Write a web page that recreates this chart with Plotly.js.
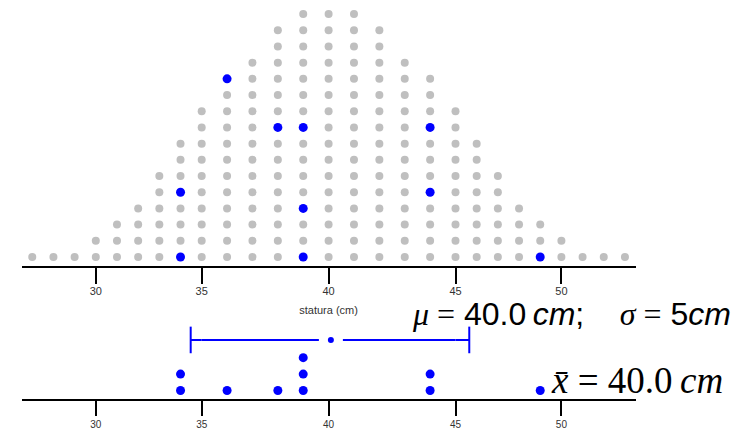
<!DOCTYPE html>
<html>
<head>
<meta charset="utf-8">
<script src="https://cdn.plot.ly/plotly-3.0.1.min.js"></script>
<style>html,body{margin:0;padding:0;background:#fff;}#chart{width:755px;height:429px;}</style>
</head>
<body>
<div id="chart"></div>
<script>
// ---- data ----
var popValues = [27,28,29,30,31,32,33,34,35,36,37,38,39,40,41,42,43,44,45,46,47,48,49,50,51,52,53];
var popCounts = [1,1,1,2,3,4,6,8,10,12,13,15,16,16,16,15,13,12,10,8,6,4,3,2,1,1,1];
var sampleValues = [34,34,36,38,39,39,39,44,44,49];
var sampleStackInPop = [1,5,12,9,1,4,9,5,9,1];   // stack level of each sampled individual in the population plot
var intervalLow = 34.48;
var intervalHigh = 45.65;
var intervalCenter = 40.09;
var topTicks = [[30],[35,40],[45,50]];
var bottomTicks = [[30],[35,40],[45,50]];
var SER = '<span style="font-family:\'Liberation Serif\'">';
var muText = SER + '<i>μ</i> =</span> 40.0\u2009<i>cm</i>;\u00a0\u00a0\u00a0\u00a0' + SER + '<i>σ</i> =</span> 5<i>cm</i>';
var xbarText = '<i>x\u0304</i> = 40.0\u2009<i>cm</i>';
var xTitle = 'statura (cm)';

// ---- layout helpers (piecewise x scale: three linear pieces) ----
var W = 755, H = 429;
var breaks = [35, 45];
var segPx = [[22.3, 201.7], [201.7, 455.5], [455.5, 636]];
var segRanges = [[35 - (201.7 - 22.3) / 21.18, 35], [35, 45], [45, 45 + (636 - 455.5) / 21.18]];
function seg(v) { return v < breaks[0] ? 0 : (v < breaks[1] ? 1 : 2); }
var gray = '#bfbfbf', blue = '#0000ff';

var traces = [];
var topX = ['x', 'x2', 'x3'], botX = ['x4', 'x5', 'x6'];

// population dots
for (var s = 0; s < 3; s++) {
  var gx = [], gy = [], bx = [], by = [];
  for (var i = 0; i < popValues.length; i++) {
    if (seg(popValues[i]) !== s) continue;
    for (var k = 1; k <= popCounts[i]; k++) {
      var isBlue = false;
      for (var j = 0; j < sampleValues.length; j++) {
        if (sampleValues[j] === popValues[i] && sampleStackInPop[j] === k) isBlue = true;
      }
      if (isBlue) { bx.push(popValues[i]); by.push(k); }
      else { gx.push(popValues[i]); gy.push(k); }
    }
  }
  traces.push({type:'scatter', mode:'markers', x:gx, y:gy, xaxis:topX[s], yaxis:'y', cliponaxis:false,
    marker:{color:gray, size:8}, hoverinfo:'skip'});
  traces.push({type:'scatter', mode:'markers', x:bx, y:by, xaxis:topX[s], yaxis:'y', cliponaxis:false,
    marker:{color:blue, size:9}, hoverinfo:'skip'});
}

// sample dots (stacked)
var seen = {};
var sx = [[],[],[]], sy = [[],[],[]];
sampleValues.forEach(function (v) {
  seen[v] = (seen[v] || 0) + 1;
  sx[seg(v)].push(v); sy[seg(v)].push(seen[v]);
});
var intervalY = 4.08;
for (var s2 = 0; s2 < 3; s2++) {
  // interval line, clipped to each piece
  traces.push({type:'scatter', mode:'lines', x:[intervalLow, intervalHigh], y:[intervalY, intervalY],
    xaxis:botX[s2], yaxis:'y2', line:{color:blue, width:2}, hoverinfo:'skip'});
  traces.push({type:'scatter', mode:'markers', x:sx[s2], y:sy[s2], xaxis:botX[s2], yaxis:'y2', cliponaxis:false,
    marker:{color:blue, size:9}, hoverinfo:'skip'});
}
// interval end caps
[intervalLow, intervalHigh].forEach(function (v) {
  traces.push({type:'scatter', mode:'markers', x:[v], y:[intervalY], xaxis:botX[seg(v)], yaxis:'y2', cliponaxis:false,
    marker:{symbol:'line-ns-open', size:19, color:blue, line:{color:blue, width:2}}, hoverinfo:'skip'});
});
// centre dot with gap
traces.push({type:'scatter', mode:'markers', x:[intervalCenter], y:[intervalY], xaxis:botX[seg(intervalCenter)], yaxis:'y2', cliponaxis:false,
  marker:{symbol:'square', size:24, color:'#ffffff'}, hoverinfo:'skip'});
traces.push({type:'scatter', mode:'markers', x:[intervalCenter], y:[intervalY], xaxis:botX[seg(intervalCenter)], yaxis:'y2', cliponaxis:false,
  marker:{color:blue, size:6}, hoverinfo:'skip'});

var layout = {
  width: W, height: H, margin:{l:0, r:0, t:0, b:0}, paper_bgcolor:'#fff', plot_bgcolor:'rgba(0,0,0,0)',
  showlegend:false, font:{family:'Liberation Sans, Arial, sans-serif', color:'#333'},
  yaxis:{domain:[1 - 265.7 / H, 1 - 5 / H], range:[0.463, 16.56], visible:false, anchor:'x', fixedrange:true},
  yaxis2:{domain:[1 - 398.5 / H, 1 - 325 / H], range:[0.512, 4.99], visible:false, anchor:'x4', fixedrange:true},
  annotations:[
    {xref:'paper', yref:'paper', x:410 / W, y:1 - 314 / H, xanchor:'left', yanchor:'middle', showarrow:false,
     text:muText, font:{family:'Liberation Sans, sans-serif', size:32, color:'#000'}},
    {xref:'paper', yref:'paper', x:549 / W, y:1 - 380 / H, xanchor:'left', yanchor:'middle', showarrow:false,
     text:xbarText, font:{family:'Liberation Serif, serif', size:37, color:'#000'}}
  ]
};
function axisDef(s, top) {
  var a = {
    domain:[segPx[s][0] / W, segPx[s][1] / W], range:segRanges[s], anchor: top ? 'y' : 'y2',
    showline:true, linecolor:'#000', linewidth:2, ticks:'outside', ticklen: top ? 16 : 15, tickwidth:2, tickcolor:'#000',
    tickmode:'array', tickvals: top ? topTicks[s] : bottomTicks[s], tickfont:{size: top ? 11 : 10, color:'#333'},
    ticklabelstandoff: top ? -2 : 0,
    showgrid:false, zeroline:false, fixedrange:true
  };
  if (top && s === 1) a.title = {text:xTitle, font:{size:11, color:'#333'}, standoff:10};
  return a;
}
layout.xaxis = axisDef(0, true);
layout.xaxis2 = axisDef(1, true);
layout.xaxis3 = axisDef(2, true);
layout.xaxis4 = axisDef(0, false);
layout.xaxis5 = axisDef(1, false);
layout.xaxis6 = axisDef(2, false);

Plotly.newPlot('chart', traces, layout, {staticPlot:true, displayModeBar:false});
</script>
</body>
</html>
